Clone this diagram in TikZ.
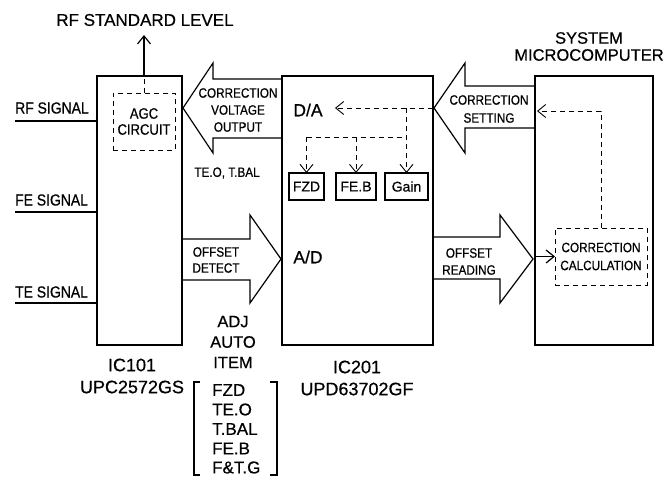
\documentclass[tikz,border=0pt]{standalone}
\usepackage{fontspec}
\setmainfont{Liberation Sans}[FakeBold=0.6]
\newfontfamily\narrowfont[FakeStretch=0.87,FakeBold=0.6]{Liberation Sans}
\usetikzlibrary{arrows.meta}
\begin{document}
\begin{tikzpicture}[x=1pt,y=-1pt,
  chip/.style={draw, line width=2.3pt, inner sep=0pt, outer sep=0pt},
  dbox/.style={draw, line width=0.9pt, dash pattern=on 5pt off 4pt, inner sep=0pt, outer sep=0pt, align=center, font=\narrowfont\fontsize{13.5}{17}\selectfont},
  regbox/.style={draw, line width=1.2pt, inner sep=0pt, outer sep=0pt, minimum height=27pt, font=\fontsize{14}{14}\selectfont},
  fat/.style={draw, line width=1.2pt, line join=miter},
  wire/.style={line width=1.2pt},
  dline/.style={line width=0.9pt, dash pattern=on 5pt off 4pt},
  vtip/.style={-{Straight Barb[length=8pt,width=13pt]}},
  big/.style={inner sep=0pt, align=center, font=\fontsize{17}{21}\selectfont},
  sig/.style={inner sep=0pt, anchor=west, font=\narrowfont\fontsize{16}{16}\selectfont},
  small/.style={inner sep=0pt, align=center, font=\narrowfont\fontsize{13.5}{17}\selectfont},
  item/.style={inner sep=0pt, anchor=west, font=\fontsize{17}{17}\selectfont}
]
\useasboundingbox (0,0) rectangle (668,476);

% chips
\node[chip, minimum width=85pt, minimum height=269pt] (ic101) at (139.5,210.5) {};
\node[chip, minimum width=151pt, minimum height=269pt] (ic201) at (357.5,210.5) {};
\node[chip, minimum width=118pt, minimum height=269pt] (mc) at (594,210.5) {};

% titles
\node[big] (rfstd) at (145,20) {RF STANDARD LEVEL};
\node[big, font=\fontsize{16.5}{17}\selectfont] (mctitle) at (589,46.5) {SYSTEM\\MICROCOMPUTER};
\node[big, font=\fontsize{18}{22}\selectfont] (ic101lbl) at (132,376) {IC101\\UPC2572GS};
\node[big, font=\fontsize{18}{22}\selectfont] (ic201lbl) at (357,378) {IC201\\UPD63702GF};
\node[big, font=\fontsize{16.5}{20.5}\selectfont] (adj) at (233,342) {ADJ\\AUTO\\ITEM};

% AGC
\node[dbox, minimum width=62pt, minimum height=57pt, font=\narrowfont\fontsize{15}{16}\selectfont] (agc) at (144,121.5) {AGC\\CIRCUIT};
\coordinate (rfup) at (144,35);
\draw[wire, vtip] (agc.north |- ic101.north) -- (rfup);
\draw[dline] (agc.north) -- (agc.north |- ic101.north);

% signals
\node[sig] (rfs) at (15,108) {RF SIGNAL};
\node[sig] (fes) at (15,200) {FE SIGNAL};
\node[sig] (tes) at (15,292) {TE SIGNAL};
\coordinate (rfl) at (15,121);
\coordinate (fel) at (15,212);
\coordinate (tel) at (15,303);
\draw[wire] (rfl) -- (rfl -| ic101.west);
\draw[wire] (fel) -- (fel -| ic101.west);
\draw[wire] (tel) -- (tel -| ic101.west);

% big arrows
\draw[fat] (282,79) -- (213,79) -- (213,63) -- (183,108) -- (213,153) -- (213,138) -- (282,138);
\node[small] (cvo) at (238,110) {CORRECTION\\VOLTAGE\\OUTPUT};
\draw[fat] (535,86) -- (465,86) -- (465,63) -- (434,108) -- (465,153) -- (465,128) -- (535,128);
\node[small, font=\narrowfont\fontsize{13.5}{18}\selectfont] (cs) at (489,109) {CORRECTION\\SETTING};
\draw[fat] (182,239) -- (250,239) -- (250,215) -- (281,259) -- (250,303) -- (250,280) -- (182,280);
\node[small, font=\narrowfont\fontsize{13.5}{16}\selectfont] (od) at (216,260) {OFFSET\\DETECT};
\draw[fat] (433,237) -- (500,237) -- (500,215) -- (533,259) -- (500,303) -- (500,279) -- (433,279);
\node[small] (ord) at (469,261.5) {OFFSET\\READING};

\node[small] (teo) at (227,173) {TE.O, T.BAL};

% IC201 internals
\node[big, font=\fontsize{17.5}{18}\selectfont] (da) at (308,110) {D/A};
\node[big, font=\fontsize{17.5}{18}\selectfont] (ad) at (308,257) {A/D};
\node[regbox, minimum width=35pt] (fzd) at (306.5,186.5) {FZD};
\node[regbox, minimum width=40pt] (feb) at (356,186.5) {FE.B};
\node[regbox, minimum width=43pt] (gain) at (406.5,186.5) {Gain};
\coordinate (dsrc) at (433,108);
\coordinate (dtip) at (335,108);
\coordinate (hbar) at (0,137);
\draw[dline, vtip] (dsrc) -- (dtip);
\draw[dline, vtip] (gain.north |- dsrc) -- (gain.north);
\draw[dline] (fzd.north |- hbar) -- (gain.north |- hbar);
\draw[dline, vtip] (fzd.north |- hbar) -- (fzd.north);
\draw[dline, vtip] (feb.north |- hbar) -- (feb.north);

% microcomputer internals
\node[dbox, minimum width=92pt, minimum height=57pt, font=\narrowfont\fontsize{13.5}{18}\selectfont] (calc) at (601,256.5) {CORRECTION\\CALCULATION};
\coordinate (mtip) at (537,111);
\draw[dline, vtip] (calc.north) -- (calc.north |- mtip) -- (mtip);
\draw[wire, vtip] (mc.west |- calc.west) -- (calc.west);

% bracket list
\draw[wire] (200,382) -- (194,382) -- (194,475) -- (200,475);
\draw[wire] (270,382) -- (277,382) -- (277,475) -- (270,475);
\node[item] (i1) at (212,390) {FZD};
\node[item] (i2) at (212,409.5) {TE.O};
\node[item] (i3) at (212,429) {T.BAL};
\node[item] (i4) at (212,448.5) {FE.B};
\node[item] (i5) at (212,467.5) {F\&T.G};
\end{tikzpicture}
\end{document}
